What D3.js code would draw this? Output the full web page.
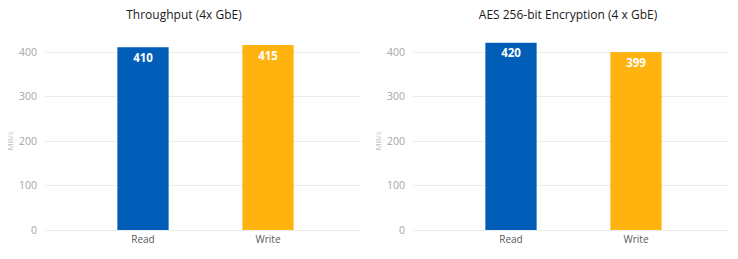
<!DOCTYPE html>
<html>
<head>
<meta charset="utf-8">
<script src="https://cdn.jsdelivr.net/npm/d3@7"></script>
<style>
  body { margin: 0; background: #fff; }
  text { font-family: "Open Sans", "Noto Sans", sans-serif; }
</style>
</head>
<body>
<div id="viz"></div>
<script>
// data
var categories = ["Read", "Write"];
var titles = ["Throughput (4x GbE)", "AES 256-bit Encryption (4 x GbE)"];
var throughputValues = [410, 415];
var encryptionValues = [420, 399];
var yTicks = [0, 100, 200, 300, 400];
var barColors = ["#005eb8", "#ffb30f"];

var svg = d3.select("#viz")
  .append("svg")
  .attr("width", 738)
  .attr("height", 259);

function drawPanel(ox, titleX, title, values) {
  var g = svg.append("g").attr("transform", "translate(" + ox + ",0)");

  var y = d3.scaleLinear().domain([0, 400]).range([230, 51.7]);
  var x = d3.scaleBand().domain(categories).range([80.5, 330.5]).paddingInner(0.59).paddingOuter(0.295);

  // gridlines
  g.selectAll("line.grid").data(yTicks).enter()
    .append("line")
    .attr("x1", 45).attr("x2", 361)
    .attr("y1", function(d) { return Math.round(y(d)) + 0.5; })
    .attr("y2", function(d) { return Math.round(y(d)) + 0.5; })
    .style("stroke", "#ececec")
    .style("stroke-width", 1);

  // y axis labels
  var yAxis = d3.axisLeft(y).tickValues(yTicks).tickSize(0).tickPadding(0);
  var ya = g.append("g").attr("transform", "translate(37,0)").call(yAxis);
  ya.select(".domain").remove();
  ya.selectAll("text")
    .style("font-size", "10.5px")
    .style("fill", "#a6a6a6")
    .style("font-family", "'Open Sans', sans-serif");

  // unit label
  g.append("text")
    .attr("transform", "translate(13,141) rotate(-90)")
    .attr("text-anchor", "middle")
    .style("font-size", "8px")
    .style("fill", "#bfbfbf")
    .text("MB/s");

  // bars
  g.selectAll("rect.bar").data(values).enter()
    .append("rect")
    .attr("x", function(d, i) { return x(categories[i]); })
    .attr("width", x.bandwidth())
    .attr("y", function(d) { return y(d); })
    .attr("height", function(d) { return y(0) - y(d); })
    .style("fill", function(d, i) { return barColors[i]; });

  // value labels
  g.selectAll("text.val").data(values).enter()
    .append("text")
    .attr("x", function(d, i) { return x(categories[i]) + x.bandwidth() / 2; })
    .attr("y", function(d) { return y(d) + 14.5; })
    .attr("text-anchor", "middle")
    .style("font-size", "11.5px")
    .style("font-weight", "bold")
    .style("fill", "#fff")
    .text(function(d) { return d; });

  // category labels
  var xAxis = d3.axisBottom(x).tickSize(0).tickPadding(0);
  var xa = g.append("g").attr("transform", "translate(0,236)").call(xAxis);
  xa.select(".domain").remove();
  xa.selectAll("text")
    .attr("dy", "0.71em")
    .style("font-size", "10px")
    .style("fill", "#595959")
    .style("font-family", "'Open Sans', sans-serif");

  // title
  g.append("text")
    .attr("x", titleX)
    .attr("y", 19)
    .attr("text-anchor", "middle")
    .style("font-size", "12px")
    .style("fill", "#1a1a1a")
    .text(title);
}

drawPanel(0, 184, titles[0], throughputValues);
drawPanel(368, 200, titles[1], encryptionValues);
</script>
</body>
</html>
